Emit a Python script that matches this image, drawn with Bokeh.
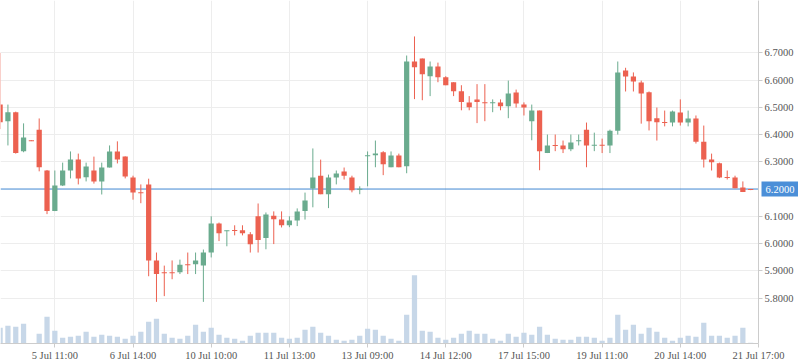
from bokeh.plotting import figure
from bokeh.models import Range1d, Span, Label, FixedTicker, NumeralTickFormatter
from bokeh.embed import file_html
from bokeh.resources import INLINE

# ---- data ----
opens  = [6.510, 6.449, 6.482, 6.339, 6.378, 6.418, 6.268, 6.119, 6.213, 6.268,
          6.308, 6.243, 6.268, 6.228, 6.279, 6.338, 6.319, 6.242, 6.187, 6.217,
          5.938, 5.894, 5.894, 5.895, 5.923, 5.924, 5.919, 5.967, 6.074, 6.046,
          6.049, 6.049, 6.034, 6.100, 6.020, 6.102, 6.088, 6.067, 6.085, 6.119,
          6.202, 6.249, 6.181, 6.242, 6.264, 6.242, 6.199, 6.322, 6.324, 6.335,
          6.280, 6.323, 6.284, 6.668, 6.679, 6.614, 6.650, 6.610, 6.592, 6.559,
          6.518, 6.529, 6.517, 6.516, 6.518, 6.504, 6.554, 6.510, 6.449, 6.488,
          6.332, 6.361, 6.360, 6.346, 6.377, 6.418, 6.360, 6.361, 6.360, 6.414,
          6.635, 6.613, 6.591, 6.555, 6.460, 6.445, 6.444, 6.481, 6.444, 6.459,
          6.374, 6.308, 6.295, 6.243, 6.242, 6.206, 6.200]
highs  = [6.700, 6.510, 6.484, 6.441, 6.379, 6.459, 6.270, 6.268, 6.297, 6.338,
          6.330, 6.297, 6.319, 6.297, 6.360, 6.375, 6.320, 6.249, 6.217, 6.238,
          5.967, 5.919, 5.938, 5.941, 5.967, 5.967, 5.978, 6.100, 6.077, 6.048,
          6.067, 6.067, 6.042, 6.147, 6.114, 6.118, 6.118, 6.100, 6.129, 6.187,
          6.349, 6.308, 6.253, 6.268, 6.279, 6.249, 6.210, 6.338, 6.378, 6.339,
          6.338, 6.330, 6.690, 6.760, 6.679, 6.668, 6.664, 6.614, 6.592, 6.581,
          6.541, 6.585, 6.585, 6.529, 6.529, 6.598, 6.565, 6.518, 6.510, 6.488,
          6.400, 6.400, 6.378, 6.400, 6.400, 6.444, 6.407, 6.385, 6.418, 6.668,
          6.645, 6.628, 6.598, 6.558, 6.499, 6.488, 6.488, 6.529, 6.488, 6.470,
          6.433, 6.330, 6.297, 6.268, 6.249, 6.228, 6.200]
lows   = [6.420, 6.360, 6.330, 6.335, 6.376, 6.265, 6.108, 6.119, 6.211, 6.239,
          6.217, 6.228, 6.220, 6.180, 6.279, 6.294, 6.239, 6.161, 6.148, 5.880,
          5.786, 5.807, 5.869, 5.888, 5.888, 5.888, 5.786, 5.949, 6.009, 5.990,
          6.030, 6.030, 5.967, 5.967, 5.979, 5.998, 6.059, 6.060, 6.064, 6.088,
          6.133, 6.181, 6.130, 6.217, 6.235, 6.188, 6.181, 6.210, 6.280, 6.251,
          6.280, 6.280, 6.258, 6.530, 6.526, 6.541, 6.592, 6.581, 6.541, 6.489,
          6.489, 6.442, 6.449, 6.482, 6.489, 6.460, 6.499, 6.470, 6.379, 6.269,
          6.332, 6.339, 6.332, 6.339, 6.360, 6.280, 6.339, 6.332, 6.332, 6.400,
          6.558, 6.558, 6.440, 6.415, 6.378, 6.430, 6.430, 6.433, 6.430, 6.367,
          6.279, 6.268, 6.240, 6.235, 6.203, 6.189, 6.196]
closes = [6.445, 6.482, 6.332, 6.389, 6.377, 6.280, 6.119, 6.213, 6.268, 6.308,
          6.239, 6.283, 6.228, 6.279, 6.338, 6.308, 6.246, 6.187, 6.185, 5.938,
          5.888, 5.892, 5.892, 5.922, 5.921, 5.938, 5.967, 6.074, 6.038, 6.048,
          6.047, 6.038, 5.997, 6.013, 6.107, 6.089, 6.067, 6.085, 6.118, 6.158,
          6.242, 6.181, 6.242, 6.257, 6.249, 6.196, 6.200, 6.323, 6.330, 6.291,
          6.323, 6.280, 6.668, 6.647, 6.621, 6.650, 6.610, 6.581, 6.559, 6.519,
          6.500, 6.519, 6.516, 6.517, 6.504, 6.551, 6.514, 6.499, 6.488, 6.339,
          6.360, 6.359, 6.346, 6.371, 6.378, 6.360, 6.361, 6.360, 6.414, 6.628,
          6.613, 6.595, 6.551, 6.449, 6.445, 6.444, 6.485, 6.444, 6.459, 6.374,
          6.308, 6.298, 6.242, 6.242, 6.203, 6.189, 6.197]
volumes = [157, 177, 167, 197, 5, 97, 267, 127, 57, 67,
           77, 117, 67, 87, 77, 67, 47, 77, 117, 217,
           247, 97, 57, 47, 77, 187, 117, 157, 87, 57,
           47, 27, 77, 107, 107, 107, 57, 47, 57, 137,
           167, 107, 77, 37, 27, 37, 77, 147, 137, 77,
           47, 27, 287, 683, 127, 117, 57, 37, 57, 97,
           127, 97, 97, 47, 27, 97, 67, 107, 87, 167,
           87, 47, 37, 37, 67, 67, 57, 27, 57, 287,
           137, 187, 97, 157, 117, 57, 27, 57, 77, 67,
           207, 77, 77, 57, 77, 157, 7]
x_tick_pos = [7, 17, 27, 37, 47, 57, 67, 77, 87, 97]
x_tick_labels = ["5 Jul 11:00", "6 Jul 14:00", "10 Jul 10:00", "11 Jul 13:00",
                 "13 Jul 09:00", "14 Jul 12:00", "17 Jul 15:00", "19 Jul 11:00",
                 "20 Jul 14:00", "21 Jul 17:00"]
price_ticks = [5.8, 5.9, 6.0, 6.1, 6.3, 6.4, 6.5, 6.6, 6.7]
last_price = 6.2

# ---- styles ----
RED = "#ec6150"
GREEN = "#6aab8e"
VOL = "#c7d7e8"
BLUE_LINE = "#4187d3"
BLUE_BOX = "#4b8fd8"
GRID = "#ededed"
AXIS = "#cccccc"
LABEL = "#555555"
FONT = "Liberation Serif"

FRAME_W, FRAME_H = 758, 343
x_start, x_end = 0.05, 97.0
y_start, y_end = 5.6332, 6.8919
px_per_price = FRAME_H / (y_end - y_start)
min_body = 1.0 / px_per_price

idx = list(range(len(opens)))
colors = [GREEN if c >= o else RED for o, c in zip(opens, closes)]
tops, bottoms = [], []
for o, c in zip(opens, closes):
    t, b = max(o, c), min(o, c)
    if t - b < min_body:
        m = (t + b) / 2
        t, b = m + min_body / 2, m - min_body / 2
    tops.append(t)
    bottoms.append(b)

p = figure(frame_width=FRAME_W, frame_height=FRAME_H,
           x_range=Range1d(x_start, x_end), y_range=Range1d(y_start, y_end),
           output_backend="svg", toolbar_location=None, tools="",
           y_axis_location="right",
           min_border_left=0, min_border_top=0, min_border_right=40, min_border_bottom=20)
p.outline_line_color = None
p.background_fill_color = "white"
p.border_fill_color = "white"

p.extra_y_ranges = {"vol": Range1d(0, FRAME_H * 10)}
p.vbar(x=idx, top=volumes, bottom=0, width=0.67, y_range_name="vol",
       fill_color=VOL, line_color=None)

p.segment(x0=idx, y0=lows, x1=idx, y1=highs, line_color=colors, line_width=1)
p.vbar(x=idx, top=tops, bottom=bottoms, width=0.67, fill_color=colors, line_color=None)

p.add_layout(Span(location=last_price, dimension="width", line_color=BLUE_LINE,
                  line_width=1, level="underlay"))

# last-price tag, placed in the right side panel so that it is not clipped to the frame
p.add_layout(Label(x=FRAME_W + 3, x_units="canvas", y=last_price, y_units="data",
                   text=f"{last_price:.4f}",
                   text_color="white", text_font=FONT, text_font_size="10.5px",
                   text_align="left", text_baseline="middle",
                   background_fill_color=BLUE_BOX, padding=4), "right")

# axes
xa = p.xaxis[0]
xa.ticker = FixedTicker(ticks=x_tick_pos)
xa.major_label_overrides = {t: l for t, l in zip(x_tick_pos, x_tick_labels)}
ya = p.yaxis[0]
ya.ticker = FixedTicker(ticks=price_ticks)
ya.formatter = NumeralTickFormatter(format="0.0000")
for ax in (xa, ya):
    ax.axis_line_color = AXIS
    ax.major_tick_line_color = AXIS
    ax.major_tick_out = 4
    ax.major_tick_in = 0
    ax.minor_tick_line_color = None
    ax.major_label_text_font = FONT
    ax.major_label_text_font_size = "10.5px"
    ax.major_label_text_color = LABEL
xa.major_label_standoff = 2
ya.major_label_standoff = 2

p.xgrid.grid_line_color = GRID
p.ygrid.grid_line_color = GRID

open("out.html", "w").write(file_html(p, INLINE))
